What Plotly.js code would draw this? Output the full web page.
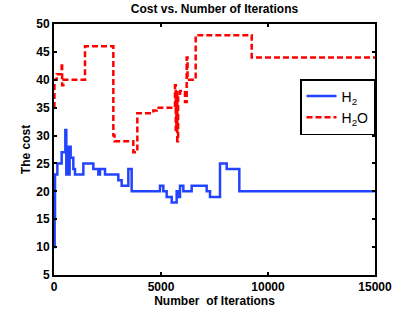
<!DOCTYPE html>
<html>
<head>
<meta charset="utf-8">
<script src="https://cdn.plot.ly/plotly-3.0.1.min.js"></script>
<style>html,body{margin:0;padding:0;background:#fff}#chart{width:415px;height:316px}</style>
</head>
<body>
<div id="chart"></div>
<script>
// H2 cost trace (step line)
const h2Iter = [0, 30, 47, 156, 358, 530, 575, 610, 640, 670, 700, 730, 779, 903, 981, 1371, 1838, 2072, 2150, 2383, 3006, 3162, 3474, 3629, 4953, 5109, 5265, 5499, 5732, 5810, 5888, 6044, 6433, 7134, 7290, 7757, 8070, 8660, 15000];
const h2Cost = [10, 15, 23, 25, 27, 31, 23, 28, 23, 28, 23, 28, 26, 24, 23, 25, 24, 23, 24, 23, 22, 21, 24, 20, 21, 20, 19, 18, 20, 19, 21, 20, 21, 20, 19, 25, 24, 20, 20];
// H2O cost trace (step line)
const h2oIter = [0, 20, 125, 358, 380, 436, 1449, 2773, 2830, 3707, 3894, 4642, 4798, 5654, 5690, 5720, 5760, 5800, 5888, 6122, 6200, 6240, 6620, 9238, 15000];
const h2oCost = [35, 40, 41, 43, 39, 40, 46, 30, 29, 27, 34, 34.5, 35, 39, 31, 38, 29, 37, 38, 36, 44, 40, 48, 44, 44];
const seriesNames = ['H<sub>2</sub>', 'H<sub>2</sub>O'];
const xTicks = [0, 5000, 10000, 15000];
const yTicks = [5, 10, 15, 20, 25, 30, 35, 40, 45, 50];

const font = {family: 'Liberation Sans, Arial, sans-serif', color: '#000'};

const traces = [
  {x: h2Iter, y: h2Cost, name: seriesNames[0], type: 'scatter', mode: 'lines',
   line: {shape: 'hv', color: '#2244ff', width: 2.5}},
  {x: h2oIter, y: h2oCost, name: seriesNames[1], type: 'scatter', mode: 'lines',
   line: {shape: 'hv', color: '#ff0000', width: 2.5, dash: '6px,3px'}}
];

const axisCommon = {
  showline: true, linecolor: '#000', linewidth: 2, mirror: 'ticks',
  ticks: 'inside', ticklen: 3, tickwidth: 2, tickcolor: '#000',
  showgrid: false, zeroline: false,
  tickfont: Object.assign({}, font, {size: 12, weight: 'bold'})
};

const layout = {
  width: 415, height: 316,
  margin: {l: 54, r: 40, t: 24, b: 41},
  paper_bgcolor: '#fff', plot_bgcolor: '#fff',
  font: font,
  showlegend: true,
  title: {text: '<b>Cost vs. Number of Iterations</b>', font: Object.assign({}, font, {size: 12}),
          x: 0.5, xref: 'paper', y: 1 - 9/316, yref: 'container', yanchor: 'middle'},
  xaxis: Object.assign({}, axisCommon, {
    range: [0, 15000], tickvals: xTicks, ticktext: xTicks.map(String),
    title: {text: '<b>Number\u00a0 of Iterations</b>', font: Object.assign({}, font, {size: 12}), standoff: 0}
  }),
  yaxis: Object.assign({}, axisCommon, {
    range: [5, 50], tickvals: yTicks, ticktext: yTicks.map(String),
    title: {text: '<b>The cost</b>', font: Object.assign({}, font, {size: 12}), standoff: 3}
  }),
  legend: {x: 1, xanchor: 'right', y: (275 - 79) / 251, yanchor: 'top',
           bordercolor: '#000', borderwidth: 1.5, bgcolor: '#fff',
           font: Object.assign({}, font, {size: 14}), itemwidth: 30, tracegroupgap: 2}
};

Plotly.newPlot('chart', traces, layout, {displayModeBar: false, staticPlot: true});
</script>
</body>
</html>
